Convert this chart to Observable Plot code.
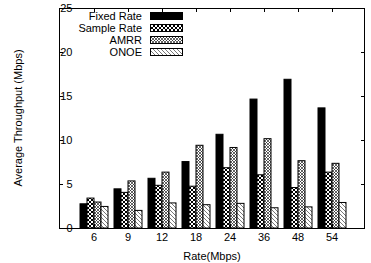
<!DOCTYPE html>
<html><head><meta charset="utf-8">
<script src="https://cdn.jsdelivr.net/npm/d3@7"></script>
<script src="https://cdn.jsdelivr.net/npm/@observablehq/plot@0.6"></script>
<style>body{margin:0;background:#fff}</style>
</head><body><div id="chart"></div>
<script>
const rates = ["6","9","12","18","24","36","48","54"];
const series = ["Fixed Rate","Sample Rate","AMRR","ONOE"];
const fixedRate = [2.75, 4.45, 5.65, 7.55, 10.65, 14.65, 16.9, 13.65];
const sampleRate = [3.4, 4.05, 4.85, 4.75, 6.85, 6.05, 4.6, 6.35];
const amrr = [2.95, 5.35, 6.35, 9.4, 9.15, 10.15, 7.65, 7.35];
const onoe = [2.45, 2.0, 2.85, 2.65, 2.8, 2.3, 2.4, 2.9];
const yTicks = [0, 5, 10, 15, 20, 25];
const xLabel = "Rate(Mbps)";
const yLabel = "Average Throughput (Mbps)";

const fills = ["black", "url(#pSample)", "url(#pAmrr)", "url(#pOnoe)"];
const values = [fixedRate, sampleRate, amrr, onoe];
const data = series.flatMap((s, i) => rates.map((r, j) => ({series: s, rate: r, value: values[i][j]})));

const W = 371, H = 263, ML = 59, MR = 6, MT = 8, MB = 35;
const font = "'Liberation Sans', Arial, Helvetica, sans-serif";

const plot = Plot.plot({
  width: W, height: H,
  marginLeft: ML, marginRight: MR, marginTop: MT, marginBottom: MB,
  style: {fontFamily: font, fontSize: "11px", color: "black", background: "white", overflow: "visible"},
  fx: {domain: rates, paddingInner: 0.15, paddingOuter: 0.575, label: null, axis: "bottom", tickSize: 0, tickPadding: 5},
  x: {domain: series, axis: null, paddingInner: 0, paddingOuter: 0},
  y: {domain: [0, 25], ticks: yTicks, label: null, tickSize: 0, tickPadding: 7},
  marks: series.map((s, i) => Plot.barY(data.filter(d => d.series === s), {
    fx: "rate", x: "series", y: "value", fill: fills[i], stroke: "black", strokeWidth: 1
  }))
});
document.getElementById("chart").appendChild(plot);

const svg = d3.select(plot);
const defs = svg.insert("defs", ":first-child");
// Sample Rate: dense crosshatch
const p1 = defs.append("pattern").attr("id", "pSample").attr("patternUnits", "userSpaceOnUse").attr("width", 4).attr("height", 4);
p1.append("rect").attr("width", 4).attr("height", 4).attr("fill", "white");
p1.append("path").attr("d", "M0,0L4,4M4,0L0,4").attr("stroke", "black").attr("stroke-width", 1);
// AMRR: finer crosshatch
const p2 = defs.append("pattern").attr("id", "pAmrr").attr("patternUnits", "userSpaceOnUse").attr("width", 3).attr("height", 3);
p2.append("rect").attr("width", 3).attr("height", 3).attr("fill", "white");
p2.append("path").attr("d", "M0,0L3,3M3,0L0,3").attr("stroke", "#222").attr("stroke-width", 0.7);
// ONOE: diagonal hatch
const p3 = defs.append("pattern").attr("id", "pOnoe").attr("patternUnits", "userSpaceOnUse").attr("width", 4).attr("height", 4);
p3.append("rect").attr("width", 4).attr("height", 4).attr("fill", "white");
p3.append("path").attr("d", "M0,0L4,4M-1,3L1,5M3,-1L5,1").attr("stroke", "#555").attr("stroke-width", 0.8);

const fx = plot.scale("fx"), y = plot.scale("y");
const x0 = ML, x1 = W - MR, y0 = y.apply(0), yTop = y.apply(25);
const g = svg.append("g").attr("stroke", "black").attr("fill", "none");
g.append("rect").attr("x", x0 + 0.5).attr("y", yTop + 0.5).attr("width", x1 - x0 - 1).attr("height", y0 - yTop);
yTicks.forEach(t => {
  const yy = Math.round(y.apply(t)) + 0.5;
  g.append("line").attr("x1", x0).attr("x2", x0 + 4).attr("y1", yy).attr("y2", yy);
  g.append("line").attr("x1", x1).attr("x2", x1 - 4).attr("y1", yy).attr("y2", yy);
});
rates.forEach(r => {
  const xx = Math.round(fx.apply(r) + fx.bandwidth / 2) + 0.5;
  g.append("line").attr("x1", xx).attr("x2", xx).attr("y1", y0).attr("y2", y0 - 4);
  g.append("line").attr("x1", xx).attr("x2", xx).attr("y1", yTop).attr("y2", yTop + 4);
});

const t = svg.append("g").attr("font-family", font).attr("font-size", 11).attr("fill", "black");
t.append("text").attr("x", (x0 + x1) / 2).attr("y", 256).attr("text-anchor", "middle").attr("dominant-baseline", "central").text(xLabel);
t.append("text").attr("transform", `translate(18,${(y0 + yTop) / 2}) rotate(-90)`).attr("text-anchor", "middle").attr("dominant-baseline", "central").text(yLabel);

// Legend inside top right
series.forEach((s, i) => {
  const cy = 16 + i * 12;
  t.append("text").attr("x", 142).attr("y", cy).attr("text-anchor", "end").attr("dominant-baseline", "central").text(s);
  svg.append("rect").attr("x", 150.5).attr("y", cy - 3.5).attr("width", 32).attr("height", 7)
    .attr("fill", fills[i]).attr("stroke", "black").attr("stroke-width", 1);
});
</script></body></html>
